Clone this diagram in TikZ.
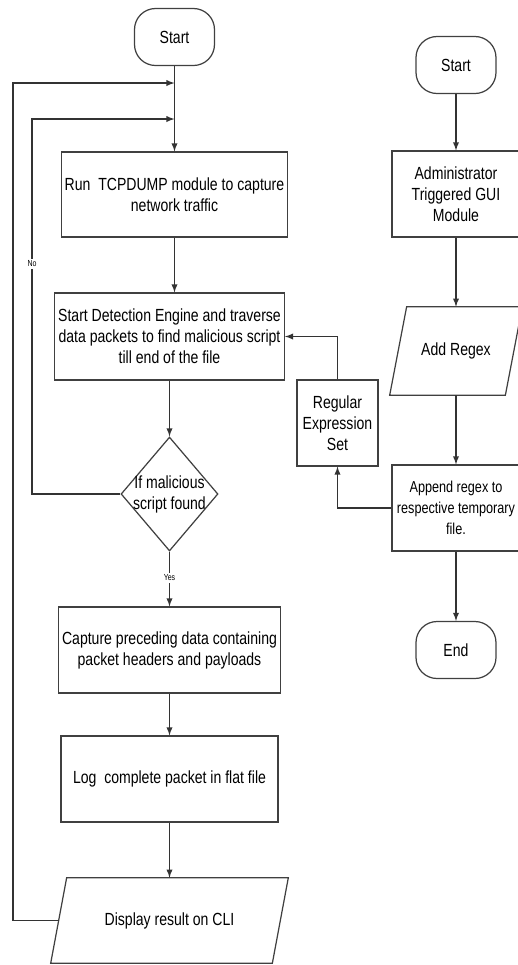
\documentclass[tikz,border=0pt]{standalone}
\usepackage{fontspec}
\setmainfont[FakeStretch=0.8]{Liberation Sans}
\usetikzlibrary{arrows,shapes.geometric}

\tikzset{
  line/.style={draw=black!75, line width=0.7pt},
  box/.style={line, align=center, inner sep=2pt},
  term/.style={line, rounded corners=0.42cm, minimum width=1.6cm, minimum height=1.14cm},
  iobox/.style={align=center, inner sep=0pt},
  decision/.style={line, diamond, inner sep=0pt, minimum width=1.94cm, minimum height=2.28cm},
  arr/.style={-latex, black!80, line width=0.6pt},
  lbl/.style={fill=white, font=\tiny, inner sep=1pt}
}

\begin{document}
\begin{tikzpicture}[x=0.02cm, y=-0.02cm]
  \useasboundingbox (0,0) rectangle (518,965);

  % left column
  \node[term] (start1) at (174.5,37) {Start};
  \node[box, minimum width=4.34cm, minimum height=1.7cm] (run) at (174.5,194.5)
    {Run\ \ TCPDUMP module to capture\\network traffic};
  \node[box, minimum width=4.34cm, minimum height=1.74cm] (detect) at (169.5,336.5)
    {Start Detection Engine and traverse\\data packets to find malicious script\\till end of the file};
  \node[decision] (check) at (169.5,494) {};
  \node[align=center, inner sep=0pt] (checktxt) at (check) {If malicious\\script found};
  \node[box, minimum width=4.34cm, minimum height=1.72cm] (capture) at (169.5,650)
    {Capture preceding data containing\\packet headers and payloads};
  \node[box, minimum width=4.34cm, minimum height=1.72cm] (logpkt) at (169.5,779)
    {Log\ \ complete packet in flat file};
  \node[iobox, minimum width=4.42cm, minimum height=1.7cm] (display) at (169.5,920.5)
    {Display result on CLI};
  \draw[line] ([xshift=0.16cm]display.north west) -- ([xshift=0.16cm]display.north east)
    -- ([xshift=-0.16cm]display.south east) -- ([xshift=-0.16cm]display.south west) -- cycle;

  % right column
  \node[term] (start2) at (456,65) {Start};
  \node[box, minimum width=2.56cm, minimum height=1.72cm] (admin) at (456,194)
    {Administrator\\Triggered GUI\\Module};
  \node[iobox, minimum width=2.3cm, minimum height=1.76cm] (addregex) at (456,351)
    {Add Regex};
  \draw[line] ([xshift=0.17cm]addregex.north west) -- ([xshift=0.17cm]addregex.north east)
    -- ([xshift=-0.17cm]addregex.south east) -- ([xshift=-0.17cm]addregex.south west) -- cycle;
  \node[box, minimum width=2.56cm, minimum height=1.72cm, font=\fontsize{9}{12}\selectfont] (append) at (456,508)
    {Append regex to\\respective temporary\\file.};
  \node[term] (end2) at (456,650) {End};
  \node[box, minimum width=1.62cm, minimum height=1.72cm] (regset) at (337.5,423)
    {Regular\\Expression\\Set};

  % loop points
  \coordinate (j1) at (174.5,83);
  \coordinate (j2) at (174.5,119);
  \coordinate (o1) at (13,83);
  \coordinate (o2) at (32,119);

  % connectors
  \draw[arr] (start1) -- (run);
  \draw[arr] (run.south) -- (run.south |- detect.north);
  \draw[arr] (detect.south) -- (check.north);
  \draw[arr] (check.south) -- (capture.north);
  \draw[arr] (capture) -- (logpkt);
  \draw[arr] (logpkt) -- (display);
  \draw[arr] (check.west) -| (o2) -- (j2);
  \draw[arr] (display.west) -| (o1) -- (j1);
  \node[lbl] (nolbl) at (32,264) {No};
  \node[lbl] (yeslbl) at (169.5,578) {Yes};

  \draw[arr] (start2) -- (admin);
  \draw[arr] (admin) -- (addregex);
  \draw[arr] (addregex) -- (append);
  \draw[arr] (append) -- (end2);
  \draw[arr] (append.west) -| (regset.south);
  \draw[arr] (regset.north) |- (detect.east);
\end{tikzpicture}
\end{document}
